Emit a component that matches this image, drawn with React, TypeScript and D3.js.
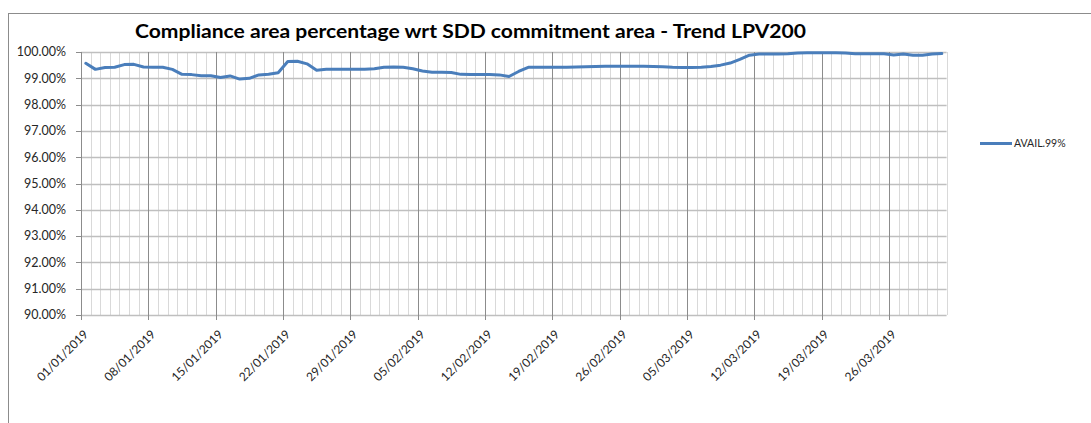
import * as d3 from 'd3'
import { FC } from 'react'

// daily values of AVAIL.99% (fraction), 01/01/2019 .. 31/03/2019
const startDate = '2019-01-01'
const seriesName = 'AVAIL.99%'
const availValues = [
  99.57, 99.34, 99.41, 99.42, 99.52, 99.53, 99.43, 99.42, 99.42, 99.34,
  99.15, 99.14, 99.10, 99.10, 99.03, 99.09, 98.97, 99.00, 99.13, 99.15,
  99.21, 99.64, 99.65, 99.55, 99.31, 99.34, 99.34, 99.34, 99.34, 99.34,
  99.36, 99.42, 99.43, 99.42, 99.36, 99.28, 99.23, 99.23, 99.22, 99.15,
  99.14, 99.14, 99.14, 99.13, 99.07, 99.26, 99.42, 99.42, 99.42, 99.42,
  99.42, 99.43, 99.44, 99.45, 99.46, 99.46, 99.46, 99.46, 99.46, 99.45,
  99.44, 99.42, 99.41, 99.41, 99.42, 99.45, 99.50, 99.58, 99.72, 99.88,
  99.92, 99.92, 99.92, 99.93, 99.96, 99.97, 99.97, 99.97, 99.97, 99.96,
  99.93, 99.93, 99.93, 99.93, 99.89, 99.92, 99.88, 99.88, 99.92, 99.94,
]
const yTicks = [0.90, 0.91, 0.92, 0.93, 0.94, 0.95, 0.96, 0.97, 0.98, 0.99, 1.00]

const title = 'Compliance area percentage wrt SDD commitment area - Trend LPV200'
const W = 1091
const H = 423
const plot = { left: 81, right: 946.6, top: 52, bottom: 315 }
const blue = '#4a7ebb'
const font = 'Lato, "Open Sans", sans-serif'

const App: FC = () => {
  const day0 = d3.timeParse('%Y-%m-%d')(startDate) as Date
  const dayEnd = d3.timeDay.offset(day0, availValues.length)
  const x = d3.scaleTime().domain([day0, dayEnd]).range([plot.left, plot.right])
  const y = d3.scaleLinear().domain([0.9, 1.0]).range([plot.bottom, plot.top])
  const fmtY = d3.format('.2%')
  const fmtX = d3.timeFormat('%d/%m/%Y')

  const days = d3.timeDay.range(day0, d3.timeDay.offset(dayEnd, 1))
  const weeks = d3.timeDay.range(day0, dayEnd, 7)
  const weekSet = new Set(weeks.map(d => +d))

  const points = availValues.map((v, i) => ({
    date: d3.timeHour.offset(d3.timeDay.offset(day0, i), 12),
    value: v / 100,
  }))
  const line = d3.line<{ date: Date, value: number }>()
    .x(d => x(d.date))
    .y(d => y(d.value))
  const path = line(points) || ''

  return (
    <svg width={W} height={H} style={{ position: 'absolute', left: 0, top: 0, background: '#fff' }}>
      {/* chart frame */}
      <rect x={8.5} y={13.5} width={W + 20} height={H + 20} fill="#fff" stroke="#8c8c8c" />
      <text x={470.5} y={37.5} textAnchor="middle" fontFamily={font} fontWeight={700} fontSize={18}
        textLength={671} lengthAdjust="spacingAndGlyphs" fill="#000">{title}</text>

      {/* minor daily gridlines */}
      {days.filter(d => !weekSet.has(+d)).map(d => (
        <line key={+d} x1={Math.round(x(d)) + 0.5} x2={Math.round(x(d)) + 0.5} y1={plot.top} y2={plot.bottom}
          stroke="#d9d9d9" strokeWidth={1} />
      ))}
      {/* horizontal gridlines */}
      {yTicks.map(t => (
        <line key={t} x1={plot.left} x2={plot.right} y1={Math.round(y(t)) + 0.5} y2={Math.round(y(t)) + 0.5}
          stroke="#bfbfbf" strokeWidth={1.3} />
      ))}
      {/* major weekly gridlines */}
      {weeks.map(d => (
        <line key={+d} x1={Math.round(x(d)) + 0.5} x2={Math.round(x(d)) + 0.5} y1={plot.top} y2={plot.bottom + 5}
          stroke="#8c8c8c" strokeWidth={1} />
      ))}
      {/* y axis */}
      <line x1={plot.left + 0.5} x2={plot.left + 0.5} y1={plot.top} y2={plot.bottom} stroke="#8c8c8c" />
      {yTicks.map(t => (
        <g key={t}>
          <line x1={plot.left - 5} x2={plot.left} y1={Math.round(y(t)) + 0.5} y2={Math.round(y(t)) + 0.5} stroke="#8c8c8c" />
          <text x={66} y={y(t)} dy="0.35em" textAnchor="end" fontFamily={font} fontSize={12.5} fill="#262626">{fmtY(t)}</text>
        </g>
      ))}
      {/* x labels */}
      {weeks.map(d => {
        const tx = x(d) + 5
        const ty = 332
        return (
          <text key={+d} x={tx} y={ty} dy="0.35em" textAnchor="end" fontFamily={font} fontSize={12}
            fill="#262626" transform={`rotate(-45 ${tx} ${ty})`}>{fmtX(d)}</text>
        )
      })}

      <path d={path} fill="none" stroke={blue} strokeWidth={3} strokeLinejoin="round" strokeLinecap="round" />

      {/* legend */}
      <line x1={980} x2={1012} y1={143.5} y2={143.5} stroke={blue} strokeWidth={3} />
      <text x={1014} y={143.5} dy="0.35em" fontFamily={font} fontSize={10.5} fill="#262626">{seriesName}</text>
    </svg>
  )
}

export default App
